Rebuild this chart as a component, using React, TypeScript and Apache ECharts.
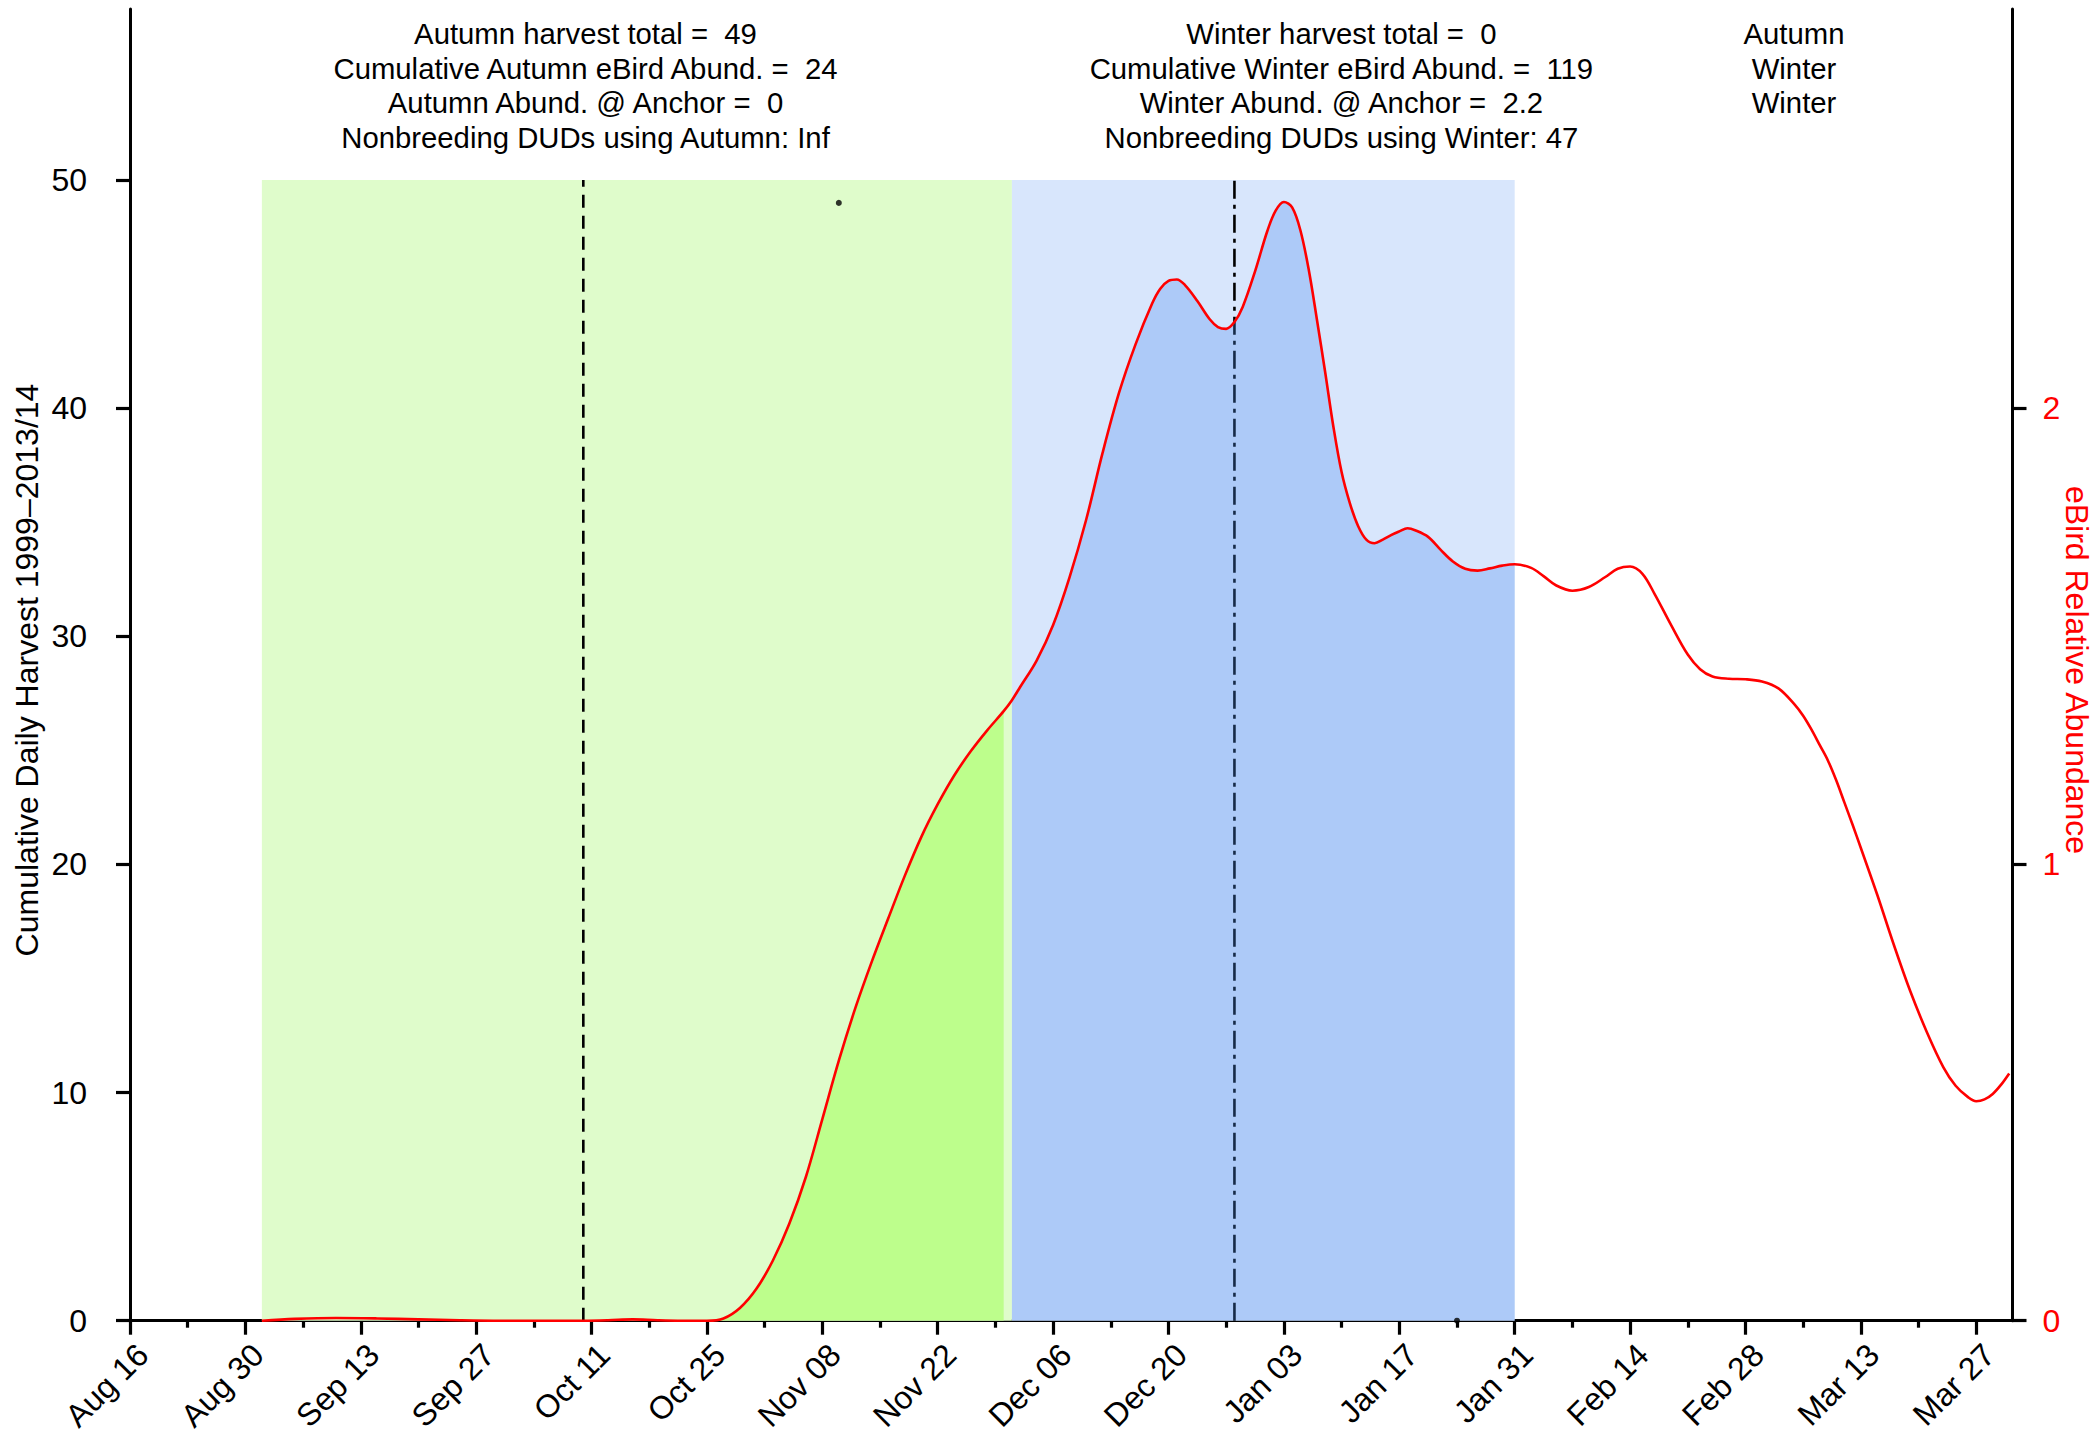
import React, { useEffect, useRef } from "react";
import * as echarts from "echarts";

// ---------- data ----------
// x values are days counted from Aug 16
const tickDays = [0, 14, 28, 42, 56, 70, 84, 98, 112, 126, 140, 154, 168, 182, 196, 210, 224];
const tickLabels = [
  "Aug 16", "Aug 30", "Sep 13", "Sep 27", "Oct 11", "Oct 25", "Nov 08", "Nov 22",
  "Dec 06", "Dec 20", "Jan 03", "Jan 17", "Jan 31", "Feb 14", "Feb 28", "Mar 13", "Mar 27",
];
const minorTickDays = [7, 21, 35, 49, 63, 77, 91, 105, 119, 133, 147, 161, 175, 189, 203, 217];
const leftTicks = [0, 10, 20, 30, 40, 50];
const rightTicks = [0, 1, 2];

const abundDays = [
  16, 20, 25, 30, 35, 40, 45, 50, 55, 58, 61, 64, 67, 70, 72, 74, 76, 78, 80, 82, 84, 86, 88, 90,
  92, 94, 96, 98, 100, 102, 104, 106, 107, 108, 110, 112, 114, 116, 118, 120, 122, 124, 125, 126,
  127, 128, 129.5, 131, 132, 133, 134, 135, 136.5, 138, 139, 140, 141, 142, 143, 144, 145, 146,
  147, 148, 149, 150, 151, 152, 153, 154, 155, 156, 157.5, 159, 160.5, 162, 163.5, 165, 166.5,
  168, 170, 171.5, 173, 175, 177, 179, 180.5, 182, 183.5, 185, 187, 189, 190.5, 192, 194, 196,
  198, 200, 202, 203, 204, 205, 206, 207, 208, 209, 210, 212, 214, 216, 218, 220, 221.5, 223, 224,
  225, 226, 227, 228,
];
const abundValues = [
  0.0, 0.004, 0.006, 0.005, 0.003, 0.001, 0.0, 0.0, 0.0, 0.001, 0.003, 0.001, 0.0, 0.0, 0.005,
  0.028, 0.07, 0.132, 0.213, 0.315, 0.442, 0.57, 0.685, 0.787, 0.882, 0.975, 1.06, 1.132, 1.195,
  1.248, 1.294, 1.336, 1.36, 1.389, 1.447, 1.525, 1.63, 1.755, 1.902, 2.034, 2.14, 2.229, 2.262,
  2.279, 2.282, 2.27, 2.235, 2.195, 2.178, 2.174, 2.189, 2.222, 2.3, 2.389, 2.433, 2.452, 2.44,
  2.39, 2.305, 2.195, 2.08, 1.96, 1.86, 1.792, 1.742, 1.712, 1.704, 1.712, 1.722, 1.73, 1.737,
  1.732, 1.718, 1.69, 1.664, 1.648, 1.644, 1.649, 1.655, 1.658, 1.65, 1.632, 1.612, 1.6, 1.608,
  1.63, 1.648, 1.653, 1.637, 1.592, 1.524, 1.46, 1.428, 1.412, 1.407, 1.406, 1.401, 1.386, 1.35,
  1.326, 1.296, 1.262, 1.228, 1.185, 1.136, 1.087, 1.036, 0.933, 0.824, 0.722, 0.633, 0.556,
  0.515, 0.49, 0.481, 0.485, 0.497, 0.517, 0.542,
];

const harvestDays = [86, 161];
const harvestValues = [49, 0];

const autumnWindow = [16, 107];
const winterWindow = [107, 168];
const windowTop = 50;
const autumnAnchorDay = 55;
const winterAnchorDay = 134;
const autumnFillRange = [70, 106];
const winterFillRange = [107, 168];

const autumnText = [
  "Autumn harvest total =  49",
  "Cumulative Autumn eBird Abund. =  24",
  "Autumn Abund. @ Anchor =  0",
  "Nonbreeding DUDs using Autumn: Inf",
];
const winterText = [
  "Winter harvest total =  0",
  "Cumulative Winter eBird Abund. =  119",
  "Winter Abund. @ Anchor =  2.2",
  "Nonbreeding DUDs using Winter: 47",
];
const seasonText = ["Autumn", "Winter", "Winter"];

const leftTitle = "Cumulative Daily Harvest 1999\u20132013/14";
const rightTitle = "eBird Relative Abundance";

// ---------- styling ----------
const FONT = "'Liberation Sans', Arial, Helvetica, sans-serif";
const RED = "#FF0000";
const X_MAX = 228.4;

function pairs(days: number[], vals: number[], lo = -Infinity, hi = Infinity) {
  const out: number[][] = [];
  days.forEach((d, i) => {
    if (d >= lo && d <= hi) out.push([d, vals[i]]);
  });
  return out;
}

function buildOption() {
  const lineY = [33.5, 68, 102.5, 137];
  const blocks = [
    { x: 585.5, lines: autumnText },
    { x: 1341.4, lines: winterText },
    { x: 1794, lines: seasonText },
  ];
  const textEls: any[] = [];
  blocks.forEach((b) =>
    b.lines.forEach((t, i) =>
      textEls.push({
        type: "text",
        x: b.x,
        y: lineY[i],
        silent: true,
        style: {
          text: t,
          fontSize: 29.3,
          fontFamily: FONT,
          fill: "#000",
          align: "center",
          verticalAlign: "middle",
        },
      })
    )
  );
  textEls.push({
    type: "text",
    x: 27,
    y: 670,
    rotation: Math.PI / 2,
    silent: true,
    style: { text: leftTitle, fontSize: 32, fontFamily: FONT, fill: "#000", align: "center", verticalAlign: "middle" },
  });
  textEls.push({
    type: "text",
    x: 2077,
    y: 670,
    rotation: -Math.PI / 2,
    silent: true,
    style: { text: rightTitle, fontSize: 32, fontFamily: FONT, fill: RED, align: "center", verticalAlign: "middle" },
  });

  const sharedSmooth = 0.35;
  const AXW = 3;

  return {
    animation: false,
    backgroundColor: "#ffffff",
    grid: { left: 130, top: 9, width: 1882.5, height: 1321.6, containLabel: false },
    xAxis: [
      {
        type: "value",
        min: 0,
        max: X_MAX,
        position: "bottom",
        axisLine: { show: true, onZero: false, lineStyle: { color: "#000", width: AXW } },
        axisTick: { show: true, customValues: tickDays, length: 14, lineStyle: { color: "#000", width: 3.2 } },
        axisLabel: {
          show: true,
          customValues: tickDays,
          rotate: 45,
          margin: 16,
          verticalAlign: "top",
          lineHeight: 36,
          fontSize: 32,
          fontFamily: FONT,
          color: "#000",
          formatter: (v: number) => {
            const i = tickDays.indexOf(Math.round(v));
            return i >= 0 ? tickLabels[i] : "";
          },
        },
        splitLine: { show: false },
      },
      {
        type: "value",
        min: 0,
        max: X_MAX,
        position: "bottom",
        axisLine: { show: false, onZero: false },
        axisTick: { show: true, customValues: minorTickDays, length: 7, lineStyle: { color: "#000", width: 3.2 } },
        axisLabel: { show: false },
        splitLine: { show: false },
      },
    ],
    yAxis: [
      {
        type: "value",
        min: 0,
        max: 57.5,
        position: "left",
        axisLine: { show: true, onZero: false, lineStyle: { color: "#000", width: AXW } },
        axisTick: { show: true, customValues: leftTicks, length: 14, lineStyle: { color: "#000", width: 3.2 } },
        axisLabel: { customValues: leftTicks, margin: 43, fontSize: 32, fontFamily: FONT, color: "#000" },
        splitLine: { show: false },
      },
      {
        type: "value",
        min: 0,
        max: 2.875,
        position: "right",
        axisLine: { show: true, onZero: false, lineStyle: { color: "#000", width: AXW } },
        axisTick: { show: true, customValues: rightTicks, length: 14, lineStyle: { color: "#000", width: 3.2 } },
        axisLabel: { customValues: rightTicks, margin: 30, fontSize: 32, fontFamily: FONT, color: RED },
        splitLine: { show: false },
      },
    ],
    series: [
      {
        name: "Harvest",
        type: "scatter",
        xAxisIndex: 0,
        yAxisIndex: 0,
        data: pairs(harvestDays, harvestValues),
        symbolSize: 6,
        itemStyle: { color: "#000" },
        silent: true,
        z: 8,
        markArea: {
          silent: true,
          z: 1,
          label: { show: false },
          data: [
            [
              { xAxis: autumnWindow[0], yAxis: 0, itemStyle: { color: "#DFFCCB", opacity: 1 } },
              { xAxis: autumnWindow[1], yAxis: windowTop },
            ],
            [
              { xAxis: winterWindow[0], yAxis: 0, itemStyle: { color: "#D8E6FC", opacity: 1 } },
              { xAxis: winterWindow[1], yAxis: windowTop },
            ],
          ],
        },
      },
      {
        name: "Autumn anchor",
        type: "line",
        xAxisIndex: 0,
        yAxisIndex: 0,
        data: [
          [autumnAnchorDay, 0],
          [autumnAnchorDay, windowTop],
        ],
        symbol: "none",
        silent: true,
        lineStyle: { color: "#000", width: 2.6, type: [13, 8] },
        z: 3,
      },
      {
        name: "Winter anchor",
        type: "line",
        xAxisIndex: 0,
        yAxisIndex: 0,
        data: [
          [winterAnchorDay, 0],
          [winterAnchorDay, windowTop],
        ],
        symbol: "none",
        silent: true,
        lineStyle: { color: "#000", width: 2.6, type: [18, 6, 4, 6] },
        z: 3,
      },
      {
        name: "Autumn fill",
        type: "line",
        xAxisIndex: 0,
        yAxisIndex: 1,
        data: pairs(abundDays, abundValues, autumnFillRange[0], autumnFillRange[1]),
        symbol: "none",
        smooth: sharedSmooth,
        silent: true,
        lineStyle: { width: 0, opacity: 0 },
        areaStyle: { color: "#BDFE8C", opacity: 1 },
        z: 4,
      },
      {
        name: "Winter fill",
        type: "line",
        xAxisIndex: 0,
        yAxisIndex: 1,
        data: pairs(abundDays, abundValues, winterFillRange[0], winterFillRange[1]),
        symbol: "none",
        smooth: sharedSmooth,
        silent: true,
        lineStyle: { width: 0, opacity: 0 },
        areaStyle: { color: "rgba(73,140,239,0.3)", opacity: 1 },
        z: 4,
      },
      {
        name: "eBird abundance",
        type: "line",
        xAxisIndex: 0,
        yAxisIndex: 1,
        data: pairs(abundDays, abundValues),
        symbol: "none",
        smooth: sharedSmooth,
        silent: true,
        lineStyle: { color: RED, width: 2.6 },
        z: 6,
      },
    ],
    graphic: textEls,
  };
}

export default function App() {
  const ref = useRef<HTMLDivElement>(null);
  useEffect(() => {
    if (!ref.current) return;
    const chart = echarts.init(ref.current, null, { renderer: "svg" });
    chart.setOption(buildOption() as any);
    return () => chart.dispose();
  }, []);
  return (
    <div
      ref={ref}
      style={{ position: "fixed", left: 0, top: 0, width: 2095, height: 1436, background: "#ffffff" }}
    />
  );
}
